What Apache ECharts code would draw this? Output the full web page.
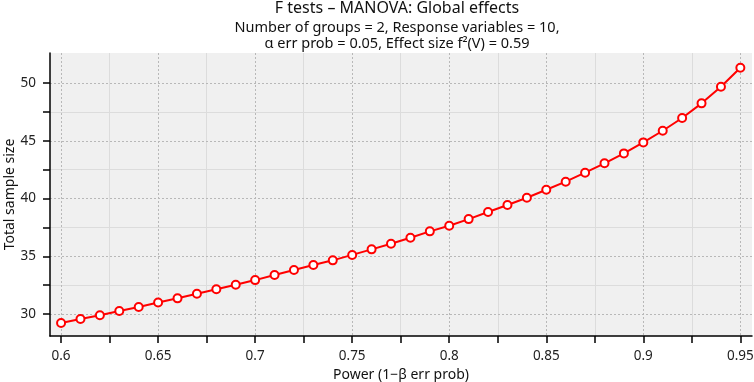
<!DOCTYPE html>
<html>
<head>
<meta charset="utf-8">
<script src="https://cdn.jsdelivr.net/npm/echarts@6/dist/echarts.min.js"></script>
<style>
  html, body { margin: 0; padding: 0; background: #fff; }
  #chart { width: 754px; height: 382px; }
</style>
</head>
<body>
<div id="chart"></div>
<script>
// power values (x) and total sample size (y)
var power = [0.6, 0.61, 0.62, 0.63, 0.64, 0.65, 0.66, 0.67, 0.68, 0.69,
  0.7, 0.71, 0.72, 0.73, 0.74, 0.75, 0.76, 0.77, 0.78, 0.79,
  0.8, 0.81, 0.82, 0.83, 0.84, 0.85, 0.86, 0.87, 0.88, 0.89,
  0.9, 0.91, 0.92, 0.93, 0.94, 0.95];
var sampleSize = [29.22, 29.57, 29.89, 30.26, 30.61, 31.0, 31.36, 31.76, 32.14, 32.54,
  32.94, 33.38, 33.81, 34.24, 34.65, 35.12, 35.6, 36.09, 36.61, 37.16,
  37.65, 38.22, 38.83, 39.44, 40.07, 40.76, 41.46, 42.24, 43.05, 43.91,
  44.86, 45.87, 46.97, 48.24, 49.68, 51.32];

var xMajor = [0.6, 0.65, 0.7, 0.75, 0.8, 0.85, 0.9, 0.95];
var xMinor = [0.625, 0.675, 0.725, 0.775, 0.825, 0.875, 0.925];
var yMajor = [30, 35, 40, 45, 50];
var yMinor = [32.5, 37.5, 42.5, 47.5];

var xAll = xMajor.concat(xMinor);
var yAll = yMajor.concat(yMinor);

var font = 'Noto Sans';
var chart = echarts.init(document.getElementById('chart'));

function xAxisBase(extra) {
  var a = {
    type: 'value', min: 0.5943, max: 0.956, position: 'bottom',
    axisLine: { show: false }, axisTick: { show: false }, axisLabel: { show: false },
    splitLine: { show: false }
  };
  return Object.assign(a, extra);
}
function yAxisBase(extra) {
  var a = {
    type: 'value', min: 28.1, max: 52.6, position: 'left',
    axisLine: { show: false }, axisTick: { show: false }, axisLabel: { show: false },
    splitLine: { show: false }
  };
  return Object.assign(a, extra);
}

var option = {
  animation: false,
  backgroundColor: '#ffffff',
  title: {
    text: 'F tests – MANOVA: Global effects',
    subtext: 'Number of groups = 2, Response variables = 10,\nα err prob = 0.05, Effect size f²(V) = 0.59',
    left: 397,
    textAlign: 'center',
    top: 0,
    padding: [0, 0, 0, 0],
    itemGap: 3,
    textStyle: { fontFamily: font, fontSize: 16, fontWeight: 'normal', color: '#111', lineHeight: 17 },
    subtextStyle: { fontFamily: font, fontSize: 14.5, color: '#111', lineHeight: 16 }
  },
  grid: {
    left: 50, right: 2, top: 53, bottom: 46,
    outerBoundsMode: 'none',
    show: true, backgroundColor: '#f0f0f0', borderWidth: 0
  },
  xAxis: [
    xAxisBase({
      name: 'Power (1−β err prob)',
      nameLocation: 'middle', nameGap: 28,
      nameTextStyle: { fontFamily: font, fontSize: 14, color: '#111' },
      axisLine: { show: true, lineStyle: { color: '#000', width: 1.5 } },
      axisTick: { show: true, length: 7, customValues: xAll, lineStyle: { color: '#000', width: 1.5 } },
      axisLabel: { show: true, customValues: xMajor, margin: 13, fontFamily: font, fontSize: 13.5, color: '#222' },
      z: 5
    }),
    xAxisBase({
      axisTick: { show: false, customValues: xMajor },
      splitLine: { show: true, lineStyle: { color: '#b8b8b8', type: [2, 2], width: 1 } },
      z: 2
    }),
    xAxisBase({
      axisTick: { show: false, customValues: xMinor },
      splitLine: { show: true, lineStyle: { color: '#dcdcdc', width: 1 } },
      z: 1
    })
  ],
  yAxis: [
    yAxisBase({
      name: 'Total sample size',
      nameLocation: 'middle', nameGap: 33,
      nameMoveOverlap: false,
      nameTextStyle: { fontFamily: font, fontSize: 14, color: '#111' },
      axisLine: { show: true, lineStyle: { color: '#000', width: 1.5 } },
      axisTick: { show: true, length: 7, customValues: yAll, lineStyle: { color: '#000', width: 1.5 } },
      axisLabel: { show: true, customValues: yMajor, margin: 14, fontFamily: font, fontSize: 13.5, color: '#222' },
      z: 5
    }),
    yAxisBase({
      axisTick: { show: false, customValues: yMajor },
      splitLine: { show: true, lineStyle: { color: '#b8b8b8', type: [2, 2], width: 1 } },
      z: 2
    }),
    yAxisBase({
      axisTick: { show: false, customValues: yMinor },
      splitLine: { show: true, lineStyle: { color: '#dcdcdc', width: 1 } },
      z: 1
    })
  ],
  series: [{
    type: 'line',
    data: power.map(function (p, i) { return [p, sampleSize[i]]; }),
    symbol: 'circle',
    symbolSize: 8,
    lineStyle: { color: '#ff0000', width: 2 },
    itemStyle: { color: '#ffffff', borderColor: '#ff0000', borderWidth: 2 },
    z: 10
  }]
};

chart.setOption(option);
</script>
</body>
</html>
